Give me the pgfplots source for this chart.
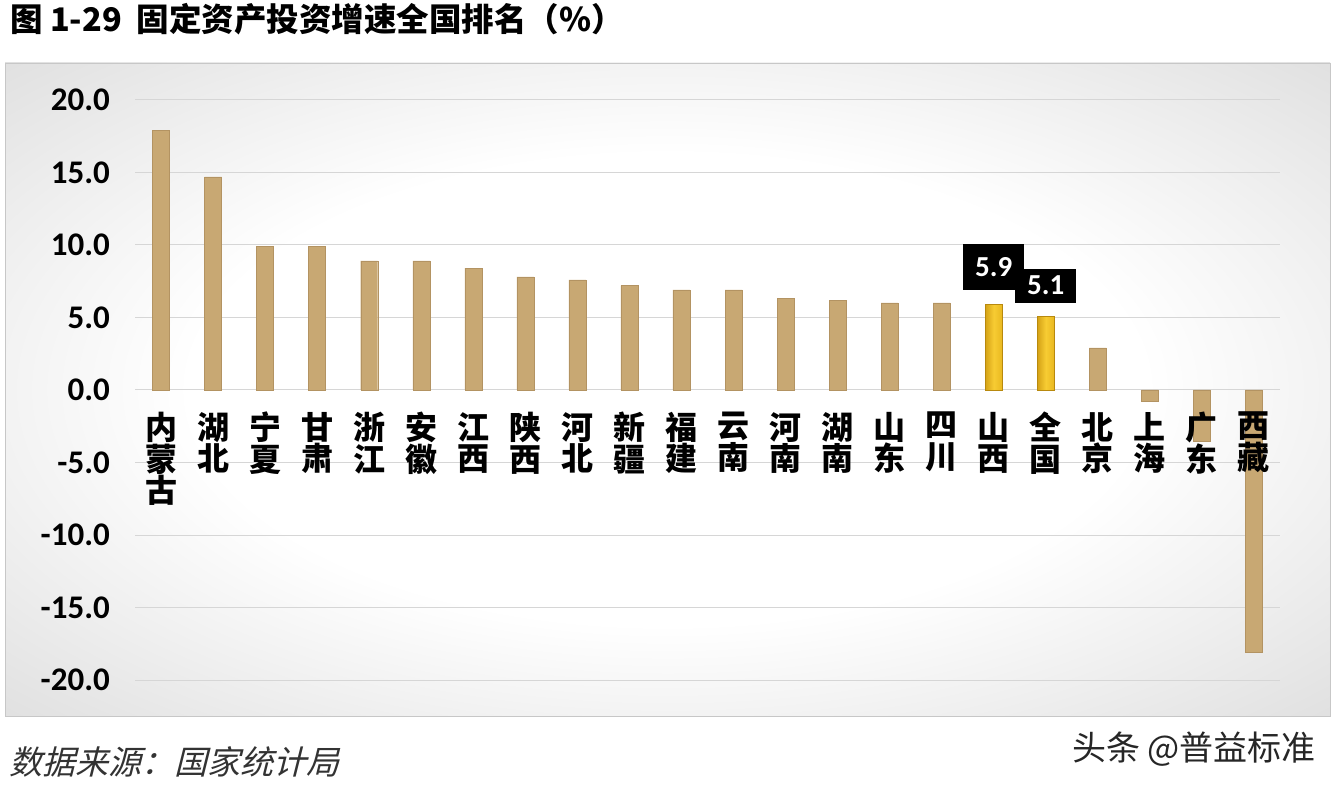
\documentclass[border=0pt]{standalone}
\usepackage{fontspec}
\setmainfont{Carlito}
\newfontfamily\cjk{Noto Sans CJK SC}
\newfontfamily\cjksl{Noto Sans CJK SC}[FakeSlant=0.25]
\usepackage{pgfplots}
\pgfplotsset{compat=1.18}
\definecolor{tanbar}{HTML}{C8A873}
\definecolor{tanedge}{HTML}{B39362}
\definecolor{goldL}{HTML}{D4A216}
\definecolor{goldM}{HTML}{F7CC33}
\definecolor{goldR}{HTML}{E9B820}
\definecolor{goldedge}{HTML}{B8890E}
\definecolor{gridc}{HTML}{D6D6D6}
\pgfdeclareradialshading{panel}{\pgfpoint{0bp}{0bp}}{color(0bp)=(white); color(18bp)=(white); color(50bp)=(black!22); color(75bp)=(black!28)}

% same frame for the bar axis and the label overlay
\pgfplotsset{frame/.style={
    at={(135pt,108pt)}, anchor=south west,
    scale only axis, width=1145pt, height=580pt,
    xmin=-0.5, xmax=21.5, ymin=-20, ymax=20,
    axis line style={draw=none},
    major tick length=0pt, clip=false}}

\begin{document}
\begin{tikzpicture}
  \useasboundingbox (0,0) rectangle (1338pt,788pt);
  \fill[white] (0,0) rectangle (1338pt,788pt);
  \shade[shading=panel, draw=black!22] (5pt,72pt) rectangle (1330pt,725pt);

  \node[anchor=west, inner sep=0pt] at (10pt,769pt)
    {\cjk\bfseries\fontsize{32.5}{32.5}\selectfont 图 1-29\ \ 固定资产投资增速全国排名（\%）};

  \begin{axis}[frame,
    ymajorgrids, grid style={gridc, line width=1pt},
    ytick={-20,-15,...,20},
    /pgf/number format/assume math mode=true,
    /pgf/number format/fixed,
    /pgf/number format/fixed zerofill,
    /pgf/number format/precision=1,
    yticklabel style={anchor=east, inner sep=0pt, xshift=-25pt,
      font=\bfseries\fontsize{33}{33}\selectfont},
    xtick=\empty,
  ]
    % provinces, ranked
    \addplot[ybar, bar width=17pt, bar shift=0pt, fill=tanbar, draw=tanedge]
      coordinates {
        (0,17.9) (1,14.7) (2,9.9) (3,9.9) (4,8.9) (5,8.9) (6,8.4) (7,7.8)
        (8,7.6) (9,7.2) (10,6.9) (11,6.9) (12,6.3) (13,6.2) (14,6.0) (15,6.0)
        (18,2.9) (19,-0.8) (20,-3.5) (21,-18.1)
      };
    % Shanxi
    \addplot[ybar, bar width=17pt, bar shift=0pt,
      left color=goldL, right color=goldR, middle color=goldM, draw=goldedge,
      nodes near coords,
      nodes near coords style={anchor=south, yshift=14pt, fill=black, text=white,
        text height=18pt, text depth=0pt, inner xsep=12pt, inner ysep=14pt,
        font=\bfseries\fontsize{29}{29}\selectfont}]
      coordinates {(16,5.9)};
    % national figure
    \addplot[ybar, bar width=17pt, bar shift=0pt,
      left color=goldL, right color=goldR, middle color=goldM, draw=goldedge,
      nodes near coords,
      nodes near coords style={anchor=south, yshift=13pt, fill=black, text=white,
        text height=18pt, text depth=0pt, inner xsep=12pt, inner ysep=8pt,
        font=\bfseries\fontsize{29}{29}\selectfont}]
      coordinates {(17,5.1)};
  \end{axis}

  % category names drawn over the bars
  \begin{axis}[frame,
    ytick=\empty,
    xtick={0,...,21},
    xticklabels={{内\\蒙\\古},{湖\\北},{宁\\夏},{甘\\肃},{浙\\江},{安\\徽},
      {江\\西},{陕\\西},{河\\北},{新\\疆},{福\\建},{云\\南},{河\\南},{湖\\南},
      {山\\东},{四\\川},{山\\西},{全\\国},{北\\京},{上\\海},{广\\东},{西\\藏}},
    xticklabel style={anchor=north, inner sep=0pt, yshift=268pt, align=center,
      font=\cjk\bfseries\fontsize{32}{31.5}\selectfont},
  ]
    \addplot[draw=none] coordinates {(0,0)};
  \end{axis}

  \node[anchor=west, inner sep=0pt, text=black!80] at (9pt,26pt)
    {\cjksl\fontsize{33}{33}\selectfont 数据来源：国家统计局};
  \node[anchor=east, inner sep=0pt, text=black!85] at (1316pt,39pt)
    {\cjk\fontsize{34}{34}\selectfont 头条 @普益标准};
\end{tikzpicture}
\end{document}
